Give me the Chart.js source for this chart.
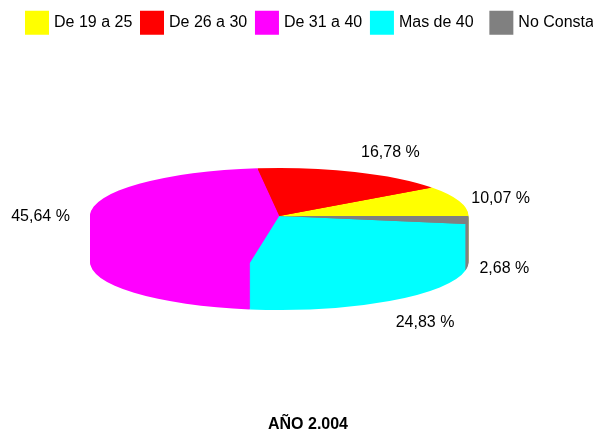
<!DOCTYPE html>
<html>
<head>
<meta charset="utf-8">
<style>html,body{margin:0;padding:0;background:#fff}canvas{display:block}</style>
<script src="https://cdn.jsdelivr.net/npm/chart.js@4"></script>
</head>
<body>
<canvas id="c" width="593" height="430"></canvas>
<script>
const categories = ["De 19 a 25", "De 26 a 30", "De 31 a 40", "Mas de 40", "No Consta"];
const percentages = [10.07, 16.78, 45.64, 24.83, 2.68];
const sliceColors = ["#ffff00", "#ff0000", "#ff00ff", "#00ffff", "#808080"];
const chartTitle = "AÑO 2.004";

const FONT = '"Liberation Sans", Arial, sans-serif';
const CX = 279.25, CY = 216, RX = 189.25, RY = 48, DEPTH = 46;
// offset of each percentage label from the rim point at its slice's mid-angle
const labelOffsets = [[41.5, -2], [35.5, -19], [-49.5, 2], [35.5, 68], [36.5, 49]];

const pie3d = {
  id: 'pie3d',
  afterLayout(chart) {
    chart.legend.left = 17.3;
    chart.legend.top = 3;
    chart.titleBlock.left = 23;
    chart.titleBlock.right = 593;
    chart.titleBlock.top += 4;
    chart.titleBlock.bottom += 4;
  },
  beforeDatasetsDraw(chart) {
    const ctx = chart.ctx;
    const arcs = chart.getDatasetMeta(0).data;
    const paint = (off) => arcs.forEach(el => {
      ctx.save();
      ctx.translate(CX, CY + off);
      ctx.scale(RX / el.outerRadius, -RY / el.outerRadius);
      ctx.translate(-el.x, -el.y);
      el.draw(ctx);
      ctx.restore();
    });
    for (let d = DEPTH; d >= 0; d--) paint(d);

    ctx.save();
    ctx.fillStyle = '#000';
    ctx.font = '16px ' + FONT;
    ctx.textAlign = 'center';
    ctx.textBaseline = 'middle';
    arcs.forEach((el, i) => {
      const mid = (el.startAngle + el.endAngle) / 2;
      const x = CX + RX * Math.cos(mid) + labelOffsets[i][0];
      const y = CY - RY * Math.sin(mid) + labelOffsets[i][1];
      ctx.fillText(percentages[i].toFixed(2).replace('.', ',') + ' %', x, y);
    });
    ctx.restore();
    return false;
  }
};

new Chart(document.getElementById('c'), {
  type: 'pie',
  data: {
    labels: categories,
    datasets: [{ data: percentages, backgroundColor: sliceColors, borderWidth: 0 }]
  },
  options: {
    responsive: false,
    animation: false,
    rotation: 90,
    layout: { padding: { right: -40 } },
    plugins: {
      tooltip: { enabled: false },
      legend: {
        position: 'top',
        align: 'start',
        labels: {
          color: '#000',
          font: { family: FONT, size: 16 },
          boxWidth: 18,
          boxHeight: 18,
          padding: 10.7,
          generateLabels(chart) {
            return categories.map((t, i) => ({
              text: t === "Mas de 40" ? t + '\u2002' : t,
              fillStyle: sliceColors[i],
              strokeStyle: sliceColors[i],
              lineWidth: 6,
              fontColor: '#000',
              index: i
            }));
          }
        }
      },
      title: {
        display: true,
        text: chartTitle,
        position: 'bottom',
        color: '#000',
        font: { family: FONT, size: 16, weight: 'bold' },
        padding: { top: 0, bottom: 0 }
      }
    }
  },
  plugins: [pie3d]
});
</script>
</body>
</html>
